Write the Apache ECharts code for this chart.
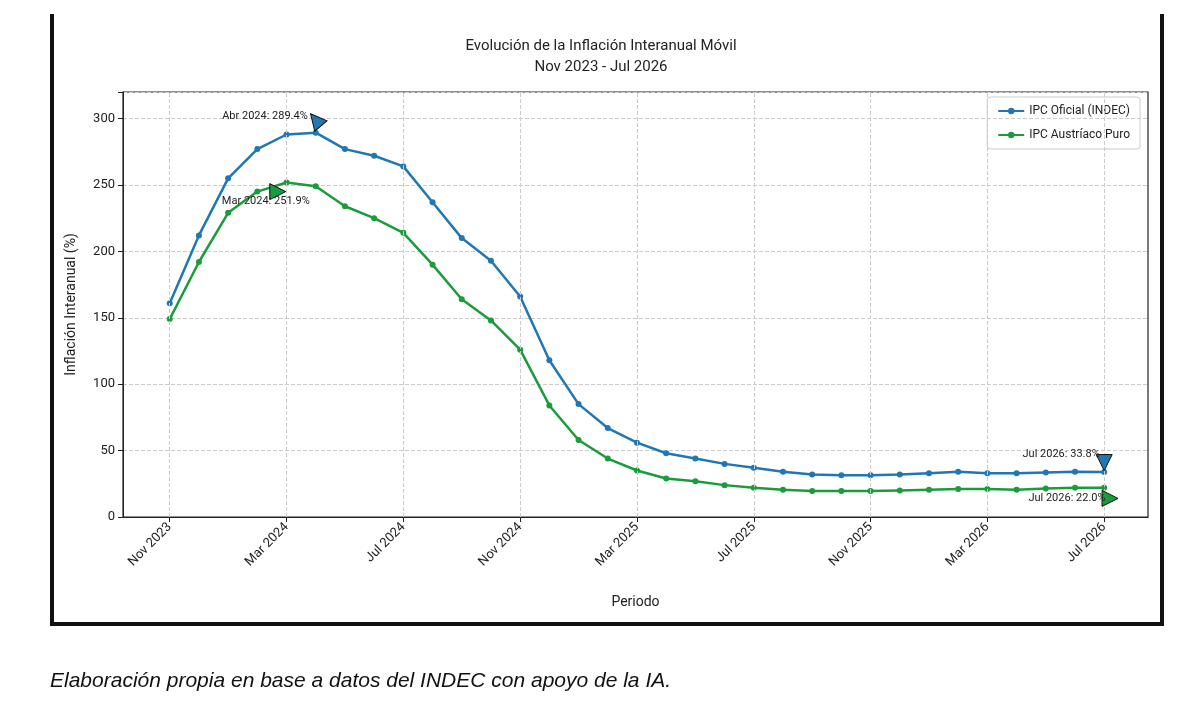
<!DOCTYPE html>
<html><head><meta charset="utf-8">
<script src="https://cdn.jsdelivr.net/npm/echarts@6/dist/echarts.min.js"></script>
<style>
body{margin:0;background:#fff;width:1200px;height:703px;position:relative;font-family:"DejaVu Sans",sans-serif}
.frame{position:absolute;left:50px;top:14px;width:1106px;height:608px;border:4px solid #111;border-top:none}
#chart{position:absolute;left:0;top:0;width:1200px;height:703px}
.cap{position:absolute;left:50px;top:668px;font:italic 21px "Liberation Sans",Arial,sans-serif;color:#111}
</style></head>
<body>
<div class="frame"></div>
<div id="chart"></div>
<div class="cap">Elaboración propia en base a datos del INDEC con apoyo de la IA.</div>
<script>
//periodos mensuales
const mesesEn = ["Jan","Feb","Mar","Apr","May","Jun","Jul","Aug","Sep","Oct","Nov","Dec"];
let periodos = [];
for (let i = 0; i < 33; i++) {
    let m = (10 + i) % 12, y = 2023 + Math.floor((10 + i) / 12);
    periodos.push(mesesEn[m] + " " + y);
}
const ipcOficial = [161,212,255,277,288,289.4,277,272,264,237,210,193,166,118,85,67,56,48,44,40,37,34,32,31.5,31.5,32,33,34,33,33,33.5,34,33.8];
const ipcAustriaco = [149,192,229,245,251.9,249,234,225,214,190,164,148,126,84,58,44,35,29,27,24,22,20.5,19.5,19.5,19.5,20,20.5,21,21,20.5,21.5,22,22.0];
const tickIdx = [0,4,8,12,16,20,24,28,32];

function pares(arr) { return arr.map((v, i) => [i, v]); }

let chart = echarts.init(document.getElementById("chart"));
const txt = "#222";
chart.setOption({
    animation: false,
    title: {
        text: "Evolución de la Inflación Interanual Móvil\nNov 2023 - Jul 2026",
        left: 596, top: 31, textAlign: "center",
        textStyle: {fontSize: 15, fontWeight: "normal", color: txt, lineHeight: 21, fontFamily: "Roboto"}
    },
    legend: {
        orient: "vertical", right: 60, top: 97,
        borderColor: "#ccc", borderWidth: 1, borderRadius: 3, padding: [8, 10],
        itemWidth: 26, itemHeight: 8, itemGap: 12,
        textStyle: {fontSize: 12, color: txt, fontFamily: "Roboto"},
        data: ["IPC Oficial (INDEC)", "IPC Austríaco Puro"]
    },
    grid: {left: 123, right: 52, top: 92, bottom: 186, show: true, borderColor: "#222", borderWidth: 1.2},
    xAxis: {
        type: "value", min: -1.6, max: 33.5,
        name: "Periodo", nameLocation: "middle", nameGap: 78,
        nameTextStyle: {fontSize: 14, color: txt, fontFamily: "Roboto"},
        axisLine: {lineStyle: {color: "#222"}}, splitLine: {show: false},
        axisTick: {customValues: tickIdx, lineStyle: {color: "#222"}},
        axisLabel: {customValues: tickIdx, rotate: 45, fontSize: 13, color: txt, fontFamily: "Roboto", formatter: v => periodos[Math.round(v)] || ""}
    },
    yAxis: {
        type: "value", min: 0, max: 320, interval: 50,
        name: "Inflación Interanual (%)", nameLocation: "middle", nameGap: 45,
        nameTextStyle: {fontSize: 14, color: txt, fontFamily: "Roboto"},
        axisLine: {show: true, onZero: false, lineStyle: {color: "#222"}}, axisTick: {show: true},
        axisLabel: {fontSize: 13, color: txt, fontFamily: "Roboto", formatter: v => v % 50 === 0 ? v : ""},
        splitLine: {lineStyle: {type: "dashed", color: "#ccc"}}
    },
    series: [
        {
            name: "IPC Oficial (INDEC)", type: "line", data: pares(ipcOficial),
            color: "#1f77b4", symbol: "circle", symbolSize: 6, lineStyle: {width: 2.5},
            markLine: {
                silent: true, symbol: "none", label: {show: false},
                lineStyle: {type: "dashed", color: "#ccc", width: 1},
                data: tickIdx.map(i => ({xAxis: i}))
            },
            markPoint: {
                symbol: "triangle", symbolSize: 16,
                itemStyle: {color: "#1f77b4", borderColor: "#111", borderWidth: 1},
                label: {position: "left", distance: 2, fontSize: 11, color: txt, fontFamily: "Roboto"},
                data: [
                    {coord: [5, 299], symbolRotate: 40, label: {formatter: "Abr 2024: 289.4%", position: "left", offset: [6, -4]}},
                    {coord: [32, 41], symbolRotate: 180, label: {formatter: "Jul 2026: 33.8%", offset: [6, -8]}}
                ]
            },
            z: 3
        },
        {
            name: "IPC Austríaco Puro", type: "line", data: pares(ipcAustriaco),
            color: "#1a9c3a", symbol: "circle", symbolSize: 6, lineStyle: {width: 2.5},
            markPoint: {
                symbol: "triangle", symbolSize: 16,
                itemStyle: {color: "#1a9c3a", borderColor: "#111", borderWidth: 1},
                label: {position: "left", distance: 2, fontSize: 11, color: txt, fontFamily: "Roboto"},
                data: [
                    {coord: [3.7, 245], symbolRotate: -90, label: {formatter: "Mar 2024: 251.9%", position: "bottom", offset: [-12, -6]}},
                    {coord: [32.2, 14], symbolRotate: -90, label: {formatter: "Jul 2026: 22.0%", offset: [6, 0]}}
                ]
            }
        }
    ]
});
</script>
</body></html>
